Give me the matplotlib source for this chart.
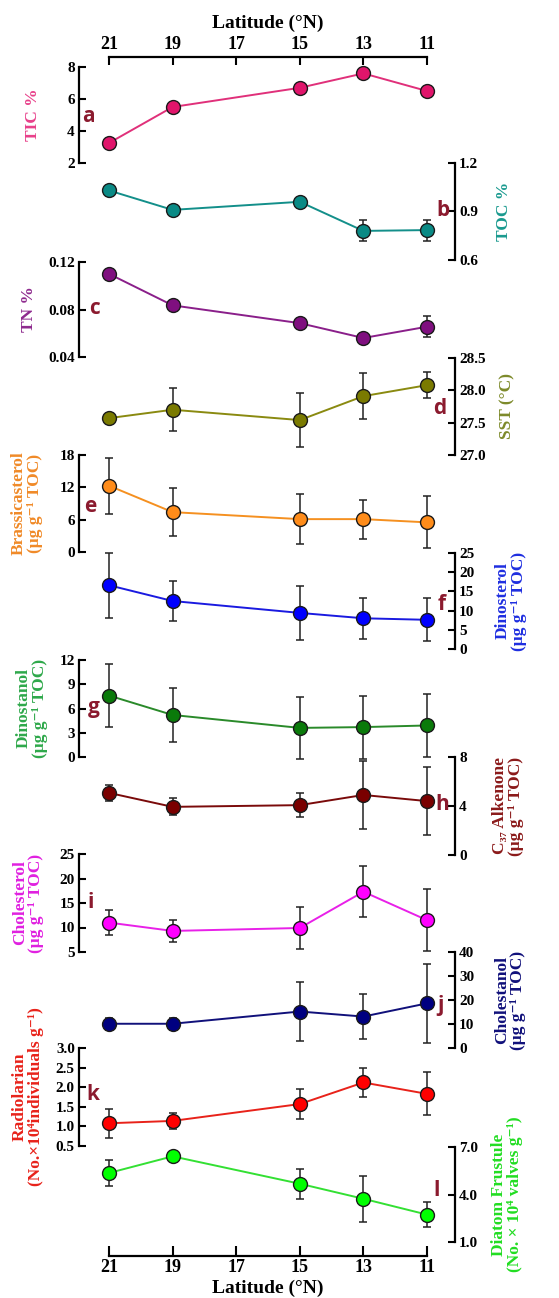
import matplotlib
matplotlib.use('Agg')
import matplotlib.pyplot as plt

# latitude of the five stations (°N)
lat = [21, 19, 15, 13, 11]
lat_ticks = [21, 19, 17, 15, 13, 11]

# values (mean, +/- error)
tic = [3.25, 5.5, 6.7, 7.6, 6.5]
tic_err = [0.12, 0.12, 0.1, 0.1, 0.1]
toc = [1.03, 0.91, 0.96, 0.78, 0.785]
toc_err = [0.015, 0.015, 0.015, 0.065, 0.065]
tn = [0.110, 0.0835, 0.0685, 0.056, 0.0655]
tn_err = [0.002, 0.003, 0.002, 0.002, 0.009]
sst = [27.57, 27.70, 27.54, 27.91, 28.08]
sst_err = [0.02, 0.33, 0.42, 0.36, 0.2]
brassicasterol = [12.3, 7.4, 6.1, 6.1, 5.5]
brassicasterol_err = [5.2, 4.5, 4.7, 3.6, 4.8]
dinosterol = [16.6, 12.5, 9.4, 8.0, 7.6]
dinosterol_err = [8.4, 5.3, 7.1, 5.4, 5.6]
dinostanol = [7.6, 5.2, 3.6, 3.7, 3.9]
dinostanol_err = [3.9, 3.3, 3.8, 3.9, 3.9]
alkenone = [5.07, 3.93, 4.07, 4.9, 4.4]
alkenone_err = [0.65, 0.7, 1.0, 2.8, 2.8]
cholesterol = [11.0, 9.3, 9.9, 17.3, 11.5]
cholesterol_err = [2.5, 2.2, 4.2, 5.2, 6.3]
cholestanol = [10.1, 10.1, 15.2, 13.1, 18.6]
cholestanol_err = [2.5, 2.5, 12.4, 9.5, 16.4]
radiolarian = [1.08, 1.14, 1.57, 2.12, 1.83]
radiolarian_err = [0.37, 0.2, 0.38, 0.38, 0.55]
diatom = [5.36, 6.41, 4.68, 3.73, 2.73]
diatom_err = [0.84, 0.1, 0.96, 1.47, 0.77]

W, H = 559, 1298
fig = plt.figure(figsize=(W / 100, H / 100), dpi=100)

serif = ['Liberation Serif', 'DejaVu Serif']
letter_col = '#8b1a2e'

# pixel layout
px_left, px_right = 79, 455
px21, px11 = 109, 427
scale = (px11 - px21) / (21 - 11)
xlim = (21 + (px21 - px_left) / scale, 11 - (px_right - px11) / scale)


def px_axes(x0, x1, y0, y1):
    return fig.add_axes([x0 / W, 1 - y1 / H, (x1 - x0) / W, (y1 - y0) / H])


# (values, err, marker col, line col, label, label col, side, ytop, ybot, ticks, ticklabels, letter, letter xy, label x)
panels = [
    (tic, tic_err, '#e0156b', '#e0307a', 'TIC %', '#e8408a', 'left', 67, 163,
     [2, 4, 6, 8], ['2', '4', '6', '8'], 'a', (88, 117), 33),
    (toc, toc_err, '#0a8a85', '#138f8a', 'TOC %', '#1a9a8f', 'right', 163, 260,
     [0.6, 0.9, 1.2], ['0.6', '0.9', '1.2'], 'b', (443, 211), 504),
    (tn, tn_err, '#7f0f7f', '#8a1f8a', 'TN %', '#8e2a8e', 'left', 262, 357,
     [0.04, 0.08, 0.12], ['0.04', '0.08', '0.12'], 'c', (94, 308), 29),
    (sst, sst_err, '#7a7a00', '#8a8a10', 'SST (°C)', '#7d8a2a', 'right', 358, 455,
     [27.0, 27.5, 28.0, 28.5], ['27.0', '27.5', '28.0', '28.5'], 'd', (440, 408), 507),
    (brassicasterol, brassicasterol_err, '#ff8c1a', '#f59020',
     'Brassicasterol\n(μg g⁻¹ TOC)', '#f08a28', 'left', 455, 552,
     [0, 6, 12, 18], ['0', '6', '12', '18'], 'e', (90, 507), 27),
    (dinosterol, dinosterol_err, '#0000ff', '#1a1ae0',
     'Dinosterol\n(μg g⁻¹ TOC)', '#1e2ee0', 'right', 553, 649,
     [0, 5, 10, 15, 20, 25], ['0', '5', '10', '15', '20', '25'], 'f', (442, 605), 511),
    (dinostanol, dinostanol_err, '#0a7a0a', '#2a8a2a',
     'Dinostanol\n(μg g⁻¹ TOC)', '#2ea84a', 'left', 660, 757,
     [0, 3, 6, 9, 12], ['0', '3', '6', '9', '12'], 'g', (94, 708), 32),
    (alkenone, alkenone_err, '#7a0000', '#7a0a0a',
     'C₃₇ Alkenone\n(μg g⁻¹ TOC)', '#8b1a1a', 'right', 757, 855,
     [0, 4, 8], ['0', '4', '8'], 'h', (442, 805), 508),
    (cholesterol, cholesterol_err, '#ff00ff', '#e820e8',
     'Cholesterol\n(μg g⁻¹ TOC)', '#e020e0', 'left', 854, 952,
     [5, 10, 15, 20, 25], ['5', '10', '15', '20', '25'], 'i', (91, 902), 28),
    (cholestanol, cholestanol_err, '#000080', '#10107a',
     'Cholestanol\n(μg g⁻¹ TOC)', '#10107a', 'right', 952, 1048,
     [0, 10, 20, 30, 40], ['0', '10', '20', '30', '40'], 'j', (441, 1005), 510),
    (radiolarian, radiolarian_err, '#ff0000', '#e8221a',
     'Radiolarian\n(No.×10⁴individuals g⁻¹)', '#e8221a', 'left', 1048, 1146,
     [0.5, 1.0, 1.5, 2.0, 2.5, 3.0], ['0.5', '1.0', '1.5', '2.0', '2.5', '3.0'], 'k', (93, 1095), 28),
    (diatom, diatom_err, '#00ff00', '#33e033',
     'Diatom Frustule\n(No. × 10⁴ valves g⁻¹)', '#22dd22', 'right', 1147, 1242,
     [1.0, 4.0, 7.0], ['1.0', '4.0', '7.0'], 'l', (437, 1191), 507),
]

for (vals, err, mcol, lcol, label, labcol, side, ytop, ybot, ticks, tlabels,
     letter, lxy, labx) in panels:
    ax = px_axes(px_left, px_right, ytop, ybot)
    ax.patch.set_visible(False)
    ax.set_xlim(xlim)
    ax.set_ylim(ticks[0], ticks[-1])
    for s in ['top', 'bottom', 'left', 'right']:
        ax.spines[s].set_visible(s == side)
    ax.spines[side].set_linewidth(1.6)
    ax.set_xticks([])
    ax.set_yticks(ticks)
    ax.set_yticklabels(tlabels, fontfamily=serif, fontweight='bold', fontsize=11)
    if side == 'right':
        ax.yaxis.tick_right()
    ax.tick_params(axis='y', direction='in', length=5, width=1.5, pad=3)

    ax.errorbar(lat, vals, yerr=err, fmt='none', ecolor='#222222', elinewidth=1.1,
                capsize=3, capthick=1.1, zorder=2, clip_on=False)
    ax.plot(lat, vals, color=lcol, lw=1.4, zorder=3, clip_on=False)
    ax.plot(lat, vals, 'o', ms=10, mfc=mcol, mec='#1a1a1a', mew=1.0, zorder=4,
            clip_on=False)

    ycen = (ytop + ybot) / 2
    fig.text(labx / W, 1 - ycen / H, label, rotation=90, ha='center', va='center',
             multialignment='center', fontfamily=serif, fontweight='bold',
             fontsize=12.5, color=labcol, linespacing=1.0)
    fig.text(lxy[0] / W, 1 - lxy[1] / H, letter, ha='center', va='center',
             fontfamily='Open Sans', fontweight='bold', fontsize=15, color=letter_col)

# top latitude axis
ax_top = px_axes(px_left, px_right, 57, 90)
ax_top.patch.set_visible(False)
ax_top.set_xlim(xlim)
for s in ['bottom', 'left', 'right']:
    ax_top.spines[s].set_visible(False)
ax_top.spines['top'].set_bounds(11, 21)
ax_top.spines['top'].set_linewidth(1.6)
ax_top.set_yticks([])
ax_top.xaxis.tick_top()
ax_top.set_xticks(lat_ticks)
ax_top.set_xticklabels([str(t) for t in lat_ticks], fontfamily=serif,
                       fontweight='bold', fontsize=13)
ax_top.tick_params(axis='x', direction='in', length=6, width=1.5, pad=3)
fig.text(268 / W, 1 - 23 / H, 'Latitude (°N)', ha='center', va='center',
         fontfamily=serif, fontweight='bold', fontsize=14)

# bottom latitude axis
ax_bot = px_axes(px_left, px_right, 1220, 1256)
ax_bot.patch.set_visible(False)
ax_bot.set_xlim(xlim)
for s in ['top', 'left', 'right']:
    ax_bot.spines[s].set_visible(False)
ax_bot.spines['bottom'].set_bounds(11, 21)
ax_bot.spines['bottom'].set_linewidth(1.6)
ax_bot.set_yticks([])
ax_bot.set_xticks(lat_ticks)
ax_bot.set_xticklabels([str(t) for t in lat_ticks], fontfamily=serif,
                       fontweight='bold', fontsize=13)
ax_bot.tick_params(axis='x', direction='in', length=7, width=1.5, pad=2)
fig.text(268 / W, 1 - 1288 / H, 'Latitude (°N)', ha='center', va='center',
         fontfamily=serif, fontweight='bold', fontsize=14)

fig.savefig('out.png', dpi=100)
